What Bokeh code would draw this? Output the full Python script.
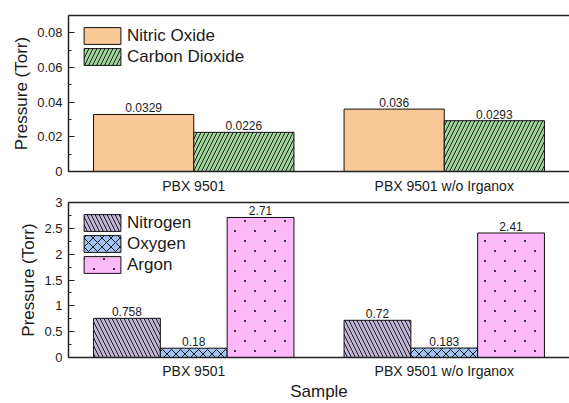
import base64, struct, zlib
from bokeh.plotting import figure
from bokeh.models import (ColumnDataSource, Range1d, FactorRange, CategoricalAxis, Legend, LegendItem,
                          SingleIntervalTicker, PrintfTickFormatter, ImageURLTexture)
from bokeh.core.properties import value
from bokeh.transform import dodge
from bokeh.layouts import column
from bokeh.embed import file_html
from bokeh.resources import INLINE

# ---- data ----
samples = ["PBX 9501", "PBX 9501 w/o Irganox"]
nitric_oxide = [0.0329, 0.036]
carbon_dioxide = [0.0226, 0.0293]
nitrogen = [0.758, 0.72]
oxygen = [0.18, 0.183]
argon = [2.71, 2.41]
top_y_max = 0.09
top_y_step = 0.02
bottom_y_max = 3
bottom_y_step = 0.5
y_label = "Pressure (Torr)"
x_label = "Sample"

FONT = "Liberation Sans"
TXT = "#1a1a1a"
AX = "#222222"


def _dot_tile_png():
    # 20x20 transparent tile with two small dark dots (staggered dot hatch)
    size = 20
    rows = []
    for yy in range(size):
        row = bytearray([0])
        for xx in range(size):
            on = (yy in (4, 5) and xx in (4, 5)) or (yy in (14, 15) and xx in (14, 15))
            row += bytes([40, 40, 40, 230 if on else 0])
        rows.append(bytes(row))
    raw = b"".join(rows)

    def chunk(t, d):
        c = struct.pack(">I", len(d)) + t + d
        return c + struct.pack(">I", zlib.crc32(t + d) & 0xFFFFFFFF)
    png = b"\x89PNG\r\n\x1a\n" + chunk(b"IHDR", struct.pack(">IIBBBBB", size, size, 8, 6, 0, 0, 0))
    png += chunk(b"IDAT", zlib.compress(raw)) + chunk(b"IEND", b"")
    return "data:image/png;base64," + base64.b64encode(png).decode()


DOTS = ImageURLTexture(url=_dot_tile_png())


def style(p, xlabel=None, xstand=6):
    p.outline_line_color = None
    p.grid.grid_line_color = None
    p.background_fill_color = "white"
    ya = p.yaxis[0]
    ya.axis_line_color = AX
    ya.axis_line_width = 1.5
    ya.major_tick_line_color = AX
    ya.minor_tick_line_color = AX
    ya.major_tick_in = 6
    ya.major_tick_out = 0
    ya.minor_tick_in = 3
    ya.minor_tick_out = 0
    ya.major_label_text_font = FONT
    ya.major_label_text_font_size = "13px"
    ya.major_label_text_color = TXT
    ya.major_label_standoff = 6
    ya.axis_label = y_label
    ya.axis_label_text_font = FONT
    ya.axis_label_text_font_size = "17px"
    ya.axis_label_text_font_style = "normal"
    ya.axis_label_text_color = TXT
    ya.axis_label_standoff = 3
    ya.formatter = PrintfTickFormatter(format="%g")
    xa = p.below[0]
    xa.axis_line_color = AX
    xa.axis_line_width = 1.5
    xa.major_tick_line_color = None
    xa.major_tick_out = 0
    xa.major_tick_in = 0
    xa.major_label_text_font = FONT
    xa.major_label_text_font_size = "14px"
    xa.major_label_text_color = TXT
    xa.major_label_standoff = xstand
    if xlabel:
        xa.axis_label = xlabel
    xa.axis_label_text_font = FONT
    xa.axis_label_text_font_size = "17px"
    xa.axis_label_text_font_style = "normal"
    xa.axis_label_text_color = TXT
    xa.axis_label_standoff = 0
    top = CategoricalAxis(axis_line_color=AX, axis_line_width=1.5, major_tick_line_color=None,
                          major_tick_out=0, major_tick_in=0,
                          major_label_text_color=None, major_label_text_font_size="1px",
                          major_label_standoff=0)
    p.add_layout(top, "above")


def make_legend(p, items, y):
    leg = Legend(items=items, location=(11, y), glyph_width=46, glyph_height=21,
                 label_height=18, label_standoff=2, spacing=0, padding=0, margin=0,
                 border_line_color=None, background_fill_alpha=0,
                 label_text_font=FONT, label_text_font_size="17px", label_text_color=TXT)
    p.add_layout(leg)


def bar_labels(p, src, xfield, yfield, tfield, off):
    p.text(x=dodge(xfield, off, range=p.x_range), y=yfield, text=tfield, source=src,
           text_align="center", text_baseline="bottom", text_font_size="12px",
           text_font=value(FONT), text_color=TXT, y_offset=-2)


# ---- top panel ----
p1 = figure(x_range=FactorRange(*samples, range_padding=0), y_range=Range1d(0, top_y_max),
            width=569, height=196, min_border_left=68, min_border_right=0, min_border_top=15,
            min_border_bottom=25, output_backend="svg", toolbar_location=None)
src1 = ColumnDataSource(dict(sample=samples, no=nitric_oxide, co2=carbon_dioxide,
                             no_t=[str(v) for v in nitric_oxide], co2_t=[str(v) for v in carbon_dioxide]))
r_no = p1.vbar(x=dodge("sample", -0.2, range=p1.x_range), top="no", width=0.4, source=src1,
               fill_color="#FAC897", line_color="#111111", line_width=1)
r_co2 = p1.vbar(x=dodge("sample", 0.2, range=p1.x_range), top="co2", width=0.4, source=src1,
                fill_color="#9FD69B", line_color="#111111", line_width=1,
                hatch_pattern="/", hatch_color="#1a1a1a", hatch_scale=8, hatch_weight=1)
bar_labels(p1, src1, "sample", "no", "no_t", -0.2)
bar_labels(p1, src1, "sample", "co2", "co2_t", 0.2)
style(p1)
p1.yaxis[0].ticker = SingleIntervalTicker(interval=top_y_step, num_minor_ticks=2)
make_legend(p1, [LegendItem(label="Nitric Oxide", renderers=[r_no]),
                 LegendItem(label="Carbon Dioxide", renderers=[r_co2])], 104)

# ---- bottom panel ----
p2 = figure(x_range=FactorRange(*samples, range_padding=0), y_range=Range1d(0, bottom_y_max),
            width=569, height=207, min_border_left=68, min_border_right=0, min_border_top=6,
            min_border_bottom=46, output_backend="svg", toolbar_location=None)
src2 = ColumnDataSource(dict(sample=samples, n2=nitrogen, o2=oxygen, ar=argon,
                             n2_t=[str(v) for v in nitrogen], o2_t=[str(v) for v in oxygen],
                             ar_t=[str(v) for v in argon]))
w = 0.8 / 3
r_n2 = p2.vbar(x=dodge("sample", -w, range=p2.x_range), top="n2", width=w, source=src2,
               fill_color="#C1B5DA", line_color="#111111", line_width=1,
               hatch_pattern="\\", hatch_color="#1a1a1a", hatch_scale=8, hatch_weight=1)
r_o2 = p2.vbar(x=dodge("sample", 0, range=p2.x_range), top="o2", width=w, source=src2,
               fill_color="#9FC4F2", line_color="#111111", line_width=1,
               hatch_pattern="x", hatch_color="#1a1a1a", hatch_scale=9, hatch_weight=1)
r_ar = p2.vbar(x=dodge("sample", w, range=p2.x_range), top="ar", width=w, source=src2,
               fill_color="#FCB8F9", line_color="#111111", line_width=1,
               hatch_pattern=value("dots"), hatch_extra={"dots": DOTS}, hatch_color="#1a1a1a",
               hatch_scale=20, hatch_weight=1)
bar_labels(p2, src2, "sample", "n2", "n2_t", -w)
bar_labels(p2, src2, "sample", "o2", "o2_t", 0)
bar_labels(p2, src2, "sample", "ar", "ar_t", w)
style(p2, x_label, 5)
p2.yaxis[0].ticker = SingleIntervalTicker(interval=bottom_y_step, num_minor_ticks=2)
make_legend(p2, [LegendItem(label="Nitrogen", renderers=[r_n2]),
                 LegendItem(label="Oxygen", renderers=[r_o2]),
                 LegendItem(label="Argon", renderers=[r_ar])], 82)

layout = column(p1, p2, spacing=0)
open("out.html", "w").write(file_html(layout, INLINE))
